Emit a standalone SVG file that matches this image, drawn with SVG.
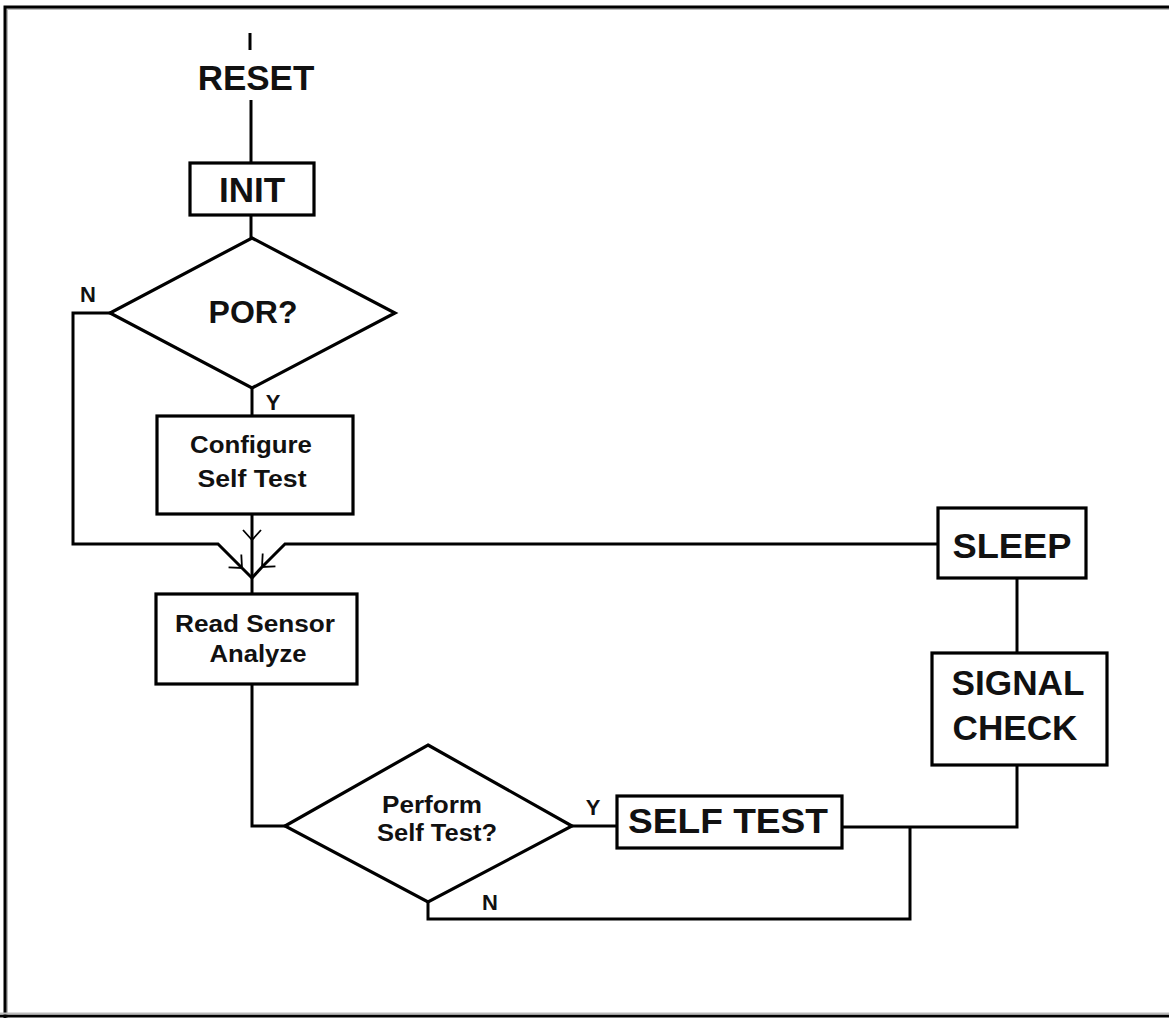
<svg xmlns="http://www.w3.org/2000/svg" width="1169" height="1018" viewBox="0 0 1169 1018">
<style>
.box{fill:#fff;stroke:#000;stroke-width:3.2}
.ln{fill:none;stroke:#000;stroke-width:3}
.t{font-family:"Liberation Sans",Arial,sans-serif;font-weight:bold;fill:#111;text-anchor:middle}
.big{font-size:35px}
.mid{font-size:32px}
.sm{font-size:23px}
.lb{font-size:22px}
</style>
<defs>
<marker id="chev" markerUnits="userSpaceOnUse" markerWidth="24" markerHeight="24" viewBox="-12 -12 24 24" refX="0" refY="0" orient="auto">
<path d="M-10,-9 L0,0 L-10,9" fill="none" stroke="#000" stroke-width="1.8"/>
</marker>
</defs>
<rect width="1169" height="1018" fill="#fff"/>
<g id="frame">
<path d="M7,1018 L7,9 L1169,9" fill="none" stroke="#bbb" stroke-width="2"/>
<path d="M5,1018 L5,7 L1169,7" fill="none" stroke="#000" stroke-width="3"/>
<path d="M0,1016 L1169,1016" fill="none" stroke="#000" stroke-width="3"/>
<path d="M0,1013.5 L1169,1013.5" fill="none" stroke="#bbb" stroke-width="2"/>
</g>
<g id="connectors">
<path class="ln" d="M250,33 L250,50"/>
<path class="ln" d="M251,100 L251,163"/>
<path class="ln" d="M251,215 L251,238"/>
<path class="ln" d="M110,313 L73,313 L73,544 L218,544 L242,568" marker-end="url(#chev)"/>
<path class="ln" d="M242,568 L252,578"/>
<path class="ln" d="M937,544 L285,544 L262,567" marker-end="url(#chev)"/>
<path class="ln" d="M262,567 L252,578"/>
<path class="ln" d="M252,388 L252,416"/>
<path class="ln" d="M252,514 L252,540" marker-end="url(#chev)"/>
<path class="ln" d="M252,540 L252,594"/>
<path class="ln" d="M252,684 L252,826 L285,826"/>
<path class="ln" d="M572,826 L617,826"/>
<path class="ln" d="M842,827 L1017,827 L1017,765"/>
<path class="ln" d="M1017,578 L1017,653"/>
<path class="ln" d="M428,902 L428,919 L910,919 L910,827"/>
</g>
<g id="reset">
<text class="t big" x="256" y="90">RESET</text>
</g>
<g id="init">
<rect class="box" x="190" y="163" width="124" height="52"/>
<text class="t big" x="252" y="202">INIT</text>
</g>
<g id="por">
<polygon class="box" points="252,238 395,313 252,388 110,313"/>
<text class="t mid" x="253" y="323">POR?</text>
<text class="t lb" x="88" y="302">N</text>
<text class="t lb" x="273" y="410">Y</text>
</g>
<g id="configure">
<rect class="box" x="157" y="416" width="196" height="98"/>
<text class="t sm" x="251" y="453" textLength="122" lengthAdjust="spacingAndGlyphs">Configure</text>
<text class="t sm" x="252" y="487" textLength="109" lengthAdjust="spacingAndGlyphs">Self Test</text>
</g>
<g id="read-sensor">
<rect class="box" x="156" y="594" width="201" height="90"/>
<text class="t sm" x="255" y="632" textLength="160" lengthAdjust="spacingAndGlyphs">Read Sensor</text>
<text class="t sm" x="258" y="662" textLength="97" lengthAdjust="spacingAndGlyphs">Analyze</text>
</g>
<g id="perform">
<polygon class="box" points="428,745 572,826 428,902 285,826"/>
<text class="t sm" x="432" y="813" textLength="100" lengthAdjust="spacingAndGlyphs">Perform</text>
<text class="t sm" x="437" y="841" textLength="120" lengthAdjust="spacingAndGlyphs">Self Test?</text>
<text class="t lb" x="593" y="815">Y</text>
<text class="t lb" x="490" y="910">N</text>
</g>
<g id="self-test">
<rect class="box" x="617" y="796" width="225" height="52"/>
<text class="t big" x="728" y="833" textLength="200" lengthAdjust="spacingAndGlyphs">SELF TEST</text>
</g>
<g id="sleep">
<rect class="box" x="938" y="508" width="148" height="70"/>
<text class="t big" x="1012" y="558" textLength="119" lengthAdjust="spacingAndGlyphs">SLEEP</text>
</g>
<g id="signal-check">
<rect class="box" x="932" y="653" width="175" height="112"/>
<text class="t big" x="1018" y="695" textLength="133" lengthAdjust="spacingAndGlyphs">SIGNAL</text>
<text class="t big" x="1015" y="740" textLength="125" lengthAdjust="spacingAndGlyphs">CHECK</text>
</g>
</svg>
